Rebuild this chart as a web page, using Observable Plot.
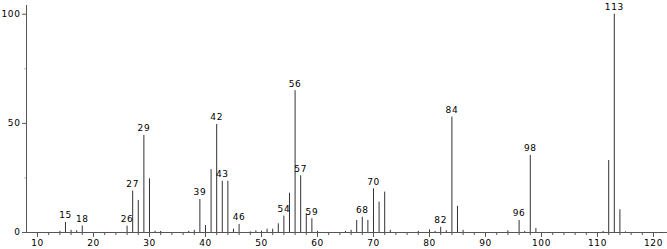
<!DOCTYPE html>
<html>
<head>
<meta charset="utf-8">
<script src="https://cdn.jsdelivr.net/npm/d3@7"></script>
<script src="https://cdn.jsdelivr.net/npm/@observablehq/plot@0.6"></script>
<style>
  html, body { margin: 0; padding: 0; background: #fff; }
  #chart svg { display: block; }
</style>
</head>
<body>
<div id="chart"></div>
<script>
// m/z values and relative intensities
const mz        = [14, 15, 16, 17, 18, 26, 27, 28, 29, 30, 31, 32, 37, 38, 39, 40, 41, 42, 43, 44, 45, 46, 48, 49, 50, 51, 52, 53, 54, 55, 56, 57, 58, 59, 60, 65, 66, 67, 68, 69, 70, 71, 72, 73, 78, 80, 81, 82, 83, 84, 85, 86, 94, 96, 97, 98, 99, 111, 112, 113, 114, 115];
const intensity = [0.5, 4.6, 1, 0.8, 3, 2.9, 19, 14.7, 44.5, 24.6, 0.6, 0.5, 0.5, 1, 15.1, 3.2, 28.8, 49.5, 23.5, 23.5, 1.5, 3.7, 0.3, 0.8, 0.6, 1.5, 1.5, 4, 7.5, 18, 65, 26, 8.6, 6.3, 0.5, 0.5, 1, 5.5, 7, 5.5, 20, 13.9, 18.5, 1, 0.5, 1.2, 0.5, 2.4, 0.8, 52.9, 12, 1, 0.8, 5.5, 0.5, 35.3, 1.8, 0.5, 33, 100, 10.4, 0.3];
// labelled peaks
const labelMz   = [15, 18, 26, 27, 29, 39, 42, 43, 46, 54, 56, 57, 59, 68, 70, 82, 84, 96, 98, 113];
// axis ticks
const xMajorTicks = [10, 20, 30, 40, 50, 60, 70, 80, 90, 100, 110, 120];
const xMinorTicks = d3.range(10, 122, 2);
const yMajorTicks = [0, 50, 100];
const yMinorTicks = [25, 75];
const xDomain = [8.04, 122.5];
const yDomain = [0, 104];

const peaks = mz.map((m, i) => ({mz: m, v: intensity[i]}));
const labels = peaks.filter(p => labelMz.includes(p.mz));

const chart = Plot.plot({
  width: 667,
  height: 249,
  marginLeft: 26,
  marginRight: 0,
  marginTop: 5,
  marginBottom: 17,
  x: {domain: xDomain, label: null},
  y: {domain: yDomain, label: null},
  style: {fontFamily: "DejaVu Sans, sans-serif", fontSize: "9px", color: "#000", background: "#fff"},
  marks: [
    Plot.axisX({ticks: xMinorTicks, tickSize: 3, tickFormat: () => "", stroke: "#555", label: null}),
    Plot.axisX({ticks: xMajorTicks, tickSize: 5, tickPadding: 2, stroke: "#555", fill: "#000", label: null}),
    Plot.axisY({ticks: yMinorTicks, tickSize: 2, tickFormat: () => "", stroke: "#bbb", label: null}),
    Plot.axisY({ticks: yMajorTicks, tickSize: 4, tickPadding: 2, stroke: "#555", fill: "#000", label: null}),
    Plot.ruleX(peaks, {x: "mz", y1: 0, y2: "v", stroke: "#333", strokeWidth: 1}),
    Plot.ruleY([yDomain[0]], {stroke: "#555"}),
    Plot.ruleX([xDomain[0]], {stroke: "#555"}),
    Plot.text(labels, {x: "mz", y: "v", text: d => String(d.mz), dy: -7, fill: "#000", fontSize: 9})
  ]
});
d3.select(chart).selectAll("text").attr("letter-spacing", "0.6px");
document.getElementById("chart").append(chart);
</script>
</body>
</html>
